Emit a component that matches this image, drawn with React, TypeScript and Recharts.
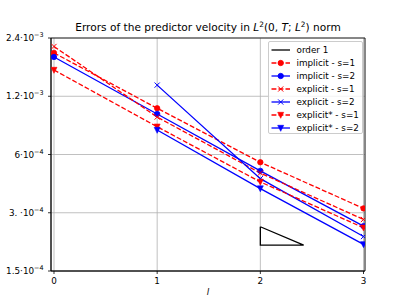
import { ComposedChart, Line, XAxis, YAxis, CartesianGrid, ReferenceArea } from 'recharts'

const levels = [0, 1, 2, 3]
const implicitS1 = [2.01e-3, 1.04e-3, 5.47e-4, 3.16e-4]
const implicitS2 = [1.915e-3, 9.72e-4, 4.94e-4, 2.56e-4]
const explicitS1 = [2.17e-3, 9.37e-4, 4.81e-4, 2.77e-4]
const explicitS2 = [null, 1.37e-3, 4.5e-4, 2.26e-4]
const explicitStarS1 = [1.64e-3, 8.35e-4, 4.33e-4, 2.51e-4]
const explicitStarS2 = [null, 8.03e-4, 4.0e-4, 2.06e-4]

// slope triangle ("order 1")
const triX = [2, 2, 2.42, 2]
const triY = [2.54e-4, 2.04e-4, 2.04e-4, 2.54e-4]

const xTicks = [0, 1, 2, 3]
const yTicks = [1.5e-4, 3e-4, 6e-4, 1.2e-3, 2.4e-3]
const yTickMantissa = ['1.5', '3. ', '6', '1.2', '2.4']
const yTickExp = ['\u22124', '\u22124', '\u22124', '\u22123', '\u22123']

const X_DOMAIN: [number, number] = [-0.029, 3.0145]
const Y_DOMAIN: [number, number] = [1.5e-4, 2.4e-3]

const RED = '#ff0000'
const BLUE = '#0000ff'
const DASH = '4.9 2.1'
const FONT = '"DejaVu Sans", sans-serif'

type Marker = 'o' | 'x' | 'v'

const data = levels.map((l, i) => ({
  l,
  impS1: implicitS1[i],
  impS2: implicitS2[i],
  expS1: explicitS1[i],
  expS2: explicitS2[i],
  starS1: explicitStarS1[i],
  starS2: explicitStarS2[i],
}))

const triData = triX.map((x, i) => ({ l: x, tri: triY[i] }))

const series: { key: string; name: string; color: string; dashed: boolean; marker: Marker }[] = [
  { key: 'impS1', name: 'implicit - s=1', color: RED, dashed: true, marker: 'o' },
  { key: 'impS2', name: 'implicit - s=2', color: BLUE, dashed: false, marker: 'o' },
  { key: 'expS1', name: 'explicit - s=1', color: RED, dashed: true, marker: 'x' },
  { key: 'expS2', name: 'explicit - s=2', color: BLUE, dashed: false, marker: 'x' },
  { key: 'starS1', name: 'explicit* - s=1', color: RED, dashed: true, marker: 'v' },
  { key: 'starS2', name: 'explicit* - s=2', color: BLUE, dashed: false, marker: 'v' },
]

function MarkerShape({ cx, cy, color, marker }: { cx: number; cy: number; color: string; marker: Marker }) {
  if (marker === 'o') return <circle cx={cx} cy={cy} r={2.7} fill={color} stroke={color} strokeWidth={0.8} />
  if (marker === 'x') {
    const s = 2.6
    return (
      <path
        d={`M${cx - s},${cy - s}L${cx + s},${cy + s}M${cx - s},${cy + s}L${cx + s},${cy - s}`}
        stroke={color}
        strokeWidth={1}
        fill="none"
      />
    )
  }
  const s = 3
  return (
    <path
      d={`M${cx - s},${cy - s * 0.9}L${cx + s},${cy - s * 0.9}L${cx},${cy + s * 1.1}Z`}
      fill={color}
      stroke={color}
      strokeWidth={0.6}
    />
  )
}

function makeDot(color: string, marker: Marker) {
  return (props: any) => {
    const { cx, cy, value, index } = props
    if (cx == null || cy == null || value == null || Number.isNaN(cy)) return <g key={`d${index}`} />
    return (
      <g key={`d${index}`}>
        <MarkerShape cx={cx} cy={cy} color={color} marker={marker} />
      </g>
    )
  }
}

function YTick(props: any) {
  const { x, y, payload } = props
  const i = yTicks.findIndex((t) => Math.abs(t - payload.value) / t < 1e-6)
  if (i < 0) return null
  return (
    <text x={x - 2.5} y={y + 3.2} textAnchor="end" fontSize={8.8} fontFamily={FONT} fill="#000">
      <tspan>{yTickMantissa[i]}{'\u00b7'}10</tspan>
      <tspan dy={-4} fontSize={6.4}>{yTickExp[i]}</tspan>
    </text>
  )
}

function LegendBox() {
  return (
    <div
      style={{
        position: 'absolute',
        left: 267.5,
        top: 40.5,
        width: 95,
        height: 93,
        boxSizing: 'border-box',
        border: '1px solid #cccccc',
        borderRadius: 2,
        background: 'rgba(255,255,255,0.8)',
        fontFamily: FONT,
        fontSize: 8.8,
        color: '#000',
      }}
    >
      {[{ key: 'order', name: 'order 1', color: '#000', dashed: false, marker: null as Marker | null }, ...series].map(
        (s, i) => (
          <div
            key={s.key}
            style={{
              position: 'absolute',
              left: 0,
              top: 2.3 + i * 13.1,
              height: 12,
              display: 'flex',
              alignItems: 'center',
              whiteSpace: 'nowrap',
            }}
          >
            <svg width={28} height={12} style={{ display: 'block' }}>
              <line
                x1={2.5}
                x2={21}
                y1={6}
                y2={6}
                stroke={s.color}
                strokeWidth={1.3}
                strokeDasharray={s.dashed ? DASH : undefined}
              />
              {s.marker && <MarkerShape cx={11.7} cy={6} color={s.color} marker={s.marker} />}
            </svg>
            <span style={{ lineHeight: '12px' }}>{s.name}</span>
          </div>
        ),
      )}
    </div>
  )
}

export default function App() {
  return (
    <div style={{ position: 'absolute', left: 0, top: 0, width: 407, height: 305, background: '#fff' }}>
      <div
        style={{
          position: 'absolute',
          left: 0,
          width: 416,
          top: 20.5,
          textAlign: 'center',
          fontFamily: FONT,
          fontSize: 10.6,
          lineHeight: '12px',
          color: '#000',
          whiteSpace: 'nowrap',
        }}
      >
        Errors of the predictor velocity in <i>L</i>
        <sup style={{ fontSize: 7.4, verticalAlign: 4, lineHeight: 0 }}>2</sup>(0, <i>T</i>; <i>L</i>
        <sup style={{ fontSize: 7.4, verticalAlign: 4, lineHeight: 0 }}>2</sup>) norm
      </div>

      <ComposedChart
        width={407}
        height={305}
        data={data}
        margin={{ top: 38, right: 42, bottom: 0, left: 0 }}
      >
        <CartesianGrid stroke="#b0b0b0" strokeWidth={0.8} />
        <XAxis
          dataKey="l"
          type="number"
          domain={X_DOMAIN}
          ticks={xTicks}
          allowDataOverflow
          height={34}
          tickSize={3}
          tickMargin={4}
          tick={{ fontSize: 8.8, fill: '#000', fontFamily: FONT }}
          axisLine={{ stroke: '#000', strokeWidth: 0.8 }}
          tickLine={{ stroke: '#000', strokeWidth: 0.8 }}
          interval={0}
        />
        <YAxis
          scale="log"
          type="number"
          domain={Y_DOMAIN}
          ticks={yTicks}
          allowDataOverflow
          width={51}
          tickSize={3}
          tickMargin={2}
          tick={<YTick />}
          axisLine={{ stroke: '#000', strokeWidth: 0.8 }}
          tickLine={{ stroke: '#000', strokeWidth: 0.8 }}
          interval={0}
        />
        <ReferenceArea
          x1={X_DOMAIN[0]}
          x2={X_DOMAIN[1]}
          y1={Y_DOMAIN[0]}
          y2={Y_DOMAIN[1]}
          fill="none"
          stroke="#000"
          strokeWidth={0.8}
          ifOverflow="visible"
        />
        <Line
          data={triData}
          dataKey="tri"
          type="linear"
          stroke="#000"
          strokeWidth={1.3}
          dot={false}
          activeDot={false}
          isAnimationActive={false}
        />
        {series.map((s) => (
          <Line
            key={s.key}
            dataKey={s.key}
            type="linear"
            stroke={s.color}
            strokeWidth={1.3}
            strokeDasharray={s.dashed ? DASH : undefined}
            dot={makeDot(s.color, s.marker)}
            activeDot={false}
            isAnimationActive={false}
          />
        ))}
      </ComposedChart>

      <div
        style={{
          position: 'absolute',
          left: 0,
          width: 416,
          top: 287,
          textAlign: 'center',
          fontFamily: FONT,
          fontSize: 8.8,
          fontStyle: 'italic',
          lineHeight: '10px',
          color: '#000',
        }}
      >
        l
      </div>

      <LegendBox />
    </div>
  )
}
